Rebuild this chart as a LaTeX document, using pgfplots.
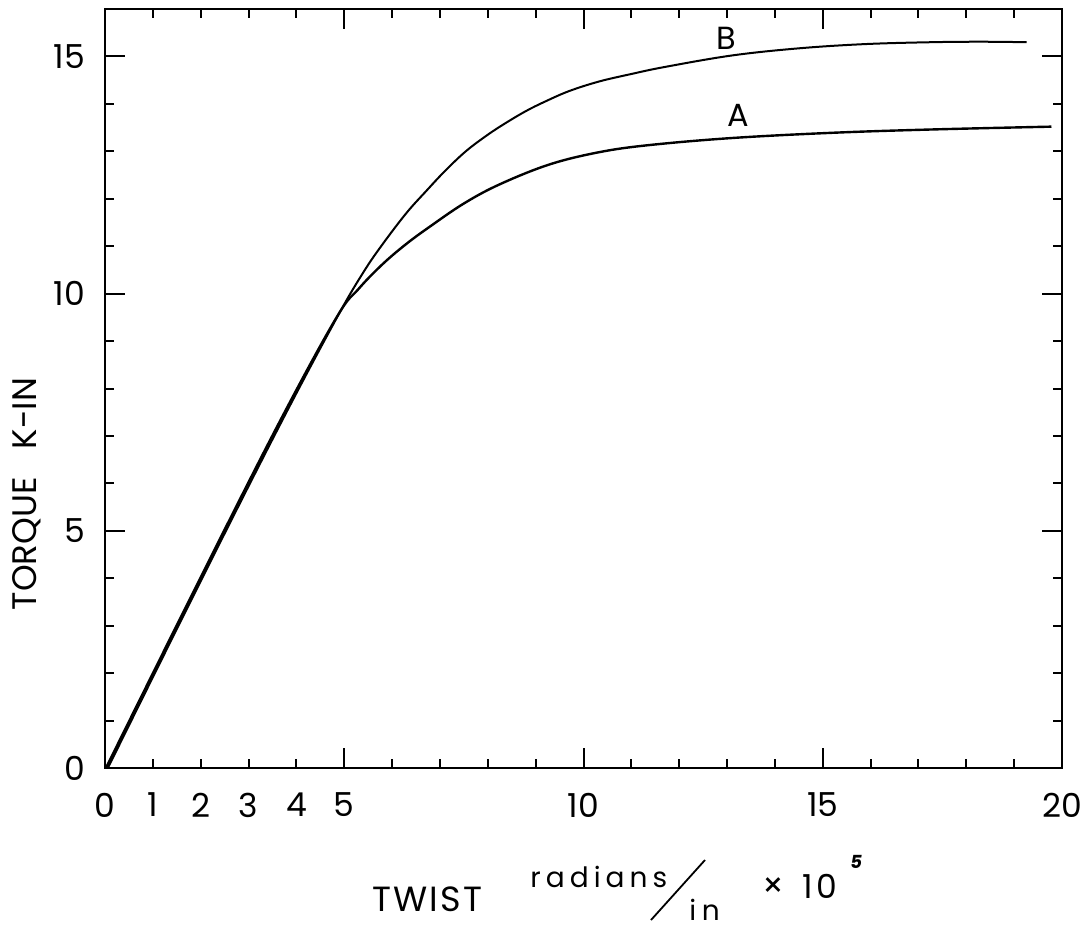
\documentclass[border=0pt]{standalone}
\usepackage{fontspec}
\setmainfont{Poppins}
\usepackage{pgfplots}
\pgfplotsset{compat=1.18}
\begin{document}
\begin{tikzpicture}
\begin{axis}[
  scale only axis, width=478.5pt, height=379.5pt,
  xmin=0, xmax=20, ymin=0, ymax=16,
  axis line style={line width=1pt},
  xtick={0,...,20},
  xticklabels={0,1,2,3,4,5,{},{},{},{},10,{},{},{},{},15,{},{},{},{},20},
  ytick={0,...,16},
  yticklabels={0,{},{},{},{},5,{},{},{},{},10,{},{},{},{},15,{}},
  extra x ticks={5,10,15}, extra y ticks={5,10,15},
  extra tick style={major tick length=10pt, xticklabel={}, yticklabel={}},
  major tick length=4.5pt,
  tick style={line width=1pt, black},
  tick label style={font=\fontsize{16.5}{18}\selectfont},
  /pgf/number format/assume math mode=true,
  xticklabel style={yshift=-9pt},
  yticklabel style={xshift=-6.5pt},
  clip=false,
]
\addplot[black, line width=1.2pt, smooth, tension=0.6] coordinates {
  (0.02,0) (2.0,4.02) (3.65,7.3) (4.84,9.5) (5.3,10.1) (5.8,10.62) (6.3,11.05)
  (6.8,11.42) (7.5,11.9) (8.24,12.3) (9.28,12.72) (10.32,12.98) (11.36,13.13)
  (13.1,13.28) (15.19,13.39) (17.27,13.46) (19.78,13.52)
};
\addplot[black, line width=1pt, smooth, tension=0.6] coordinates {
  (0.06,0) (2.04,4.02) (3.69,7.3) (4.86,9.52) (5.4,10.45) (5.8,11.04) (6.3,11.7)
  (6.71,12.16) (7.1,12.58) (7.54,13.0) (8.0,13.35) (8.38,13.6) (8.8,13.85)
  (9.2,14.05) (9.7,14.27) (10.32,14.47) (11.0,14.63) (11.71,14.78) (13.1,15.02)
  (14.49,15.17) (15.88,15.26) (17.27,15.30) (18.32,15.31) (19.26,15.30)
};
\node[font=\fontsize{16}{18}\selectfont] at (axis cs:12.99,15.38) {B};
\node[font=\fontsize{16}{18}\selectfont] at (axis cs:13.24,13.76) {A};
\end{axis}
% axis label (y)
\node[rotate=90, anchor=center, inner sep=0] at (-39pt,137pt)
  {\fontsize{17}{18}\selectfont TORQUE\hspace{14pt}K-IN};
% axis label (x)
\node[anchor=base west, inner sep=0] at (133.5pt,-71.5pt)
  {\fontsize{17.5}{18}\selectfont\addfontfeature{LetterSpace=6}TWIST};
\node[anchor=base west, inner sep=0] at (212.5pt,-59.5pt)
  {\fontsize{14}{14}\selectfont\addfontfeature{LetterSpace=18}radians};
\draw[line width=0.9pt] (273pt,-76pt) -- (300pt,-46pt);
\node[anchor=base west, inner sep=0] at (292pt,-76pt)
  {\fontsize{14}{14}\selectfont\addfontfeature{LetterSpace=20}in};
\node[anchor=center, inner sep=0] at (334pt,-60pt)
  {\fontsize{17}{17}\selectfont ×};
\node[anchor=base west, inner sep=0] at (348.5pt,-65pt)
  {\fontsize{16.5}{18}\selectfont\addfontfeature{LetterSpace=12}10};
\node[anchor=north west, inner sep=0] at (372.5pt,-43.5pt)
  {\fontsize{9}{9}\selectfont\bfseries\itshape 5};
\pgfresetboundingbox
\path[use as bounding box] (-52.5pt,-80pt) rectangle (493.5pt,384pt);
\end{tikzpicture}
\end{document}
